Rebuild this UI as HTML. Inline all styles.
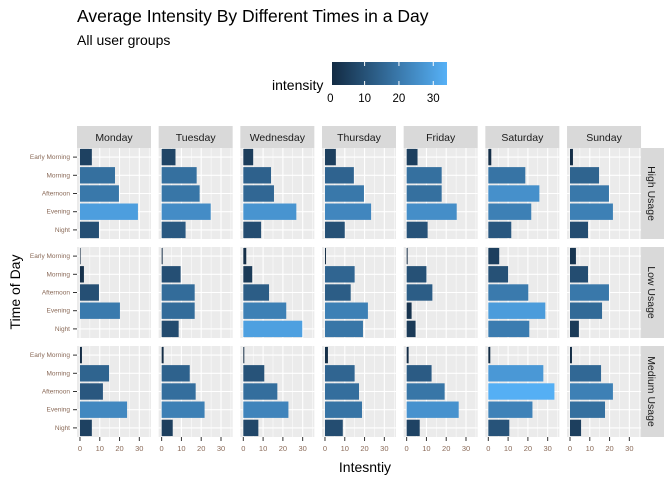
<!DOCTYPE html>
<html><head><meta charset="utf-8"><style>
body{margin:0;background:#fff}
svg text{font-family:"Liberation Sans",sans-serif}
</style></head><body>
<svg id="c" width="672" height="480" viewBox="0 0 672 480">
<text x="77" y="22" font-size="17.5" fill="#000">Average Intensity By Different Times in a Day</text>
<text x="77" y="45" font-size="14" fill="#000">All user groups</text>
<defs><linearGradient id="g" x1="0" x2="1"><stop offset="0" stop-color="#132B43"/><stop offset="1" stop-color="#56B1F7"/></linearGradient></defs>
<g>
<text x="272" y="90" font-size="14" fill="#000">intensity</text>
<rect x="332" y="62" width="115" height="23" fill="url(#g)"/>
<g id="lt"></g>
</g>
<g id="plot"></g>
<text x="365" y="472" font-size="14" text-anchor="middle" fill="#000">Intesntiy</text>
<text transform="translate(20,292) rotate(-90)" font-size="14" text-anchor="middle" fill="#000">Time of Day</text>
</svg>
<script>
const days=["Monday","Tuesday","Wednesday","Thursday","Friday","Saturday","Sunday"];
const groups=["High Usage","Low Usage","Medium Usage"];
const times=["Early Morning","Morning","Afternoon","Evening","Night"];
const xTicks=[0,10,20,30];
const highUsage=[[6,17.7,19.7,29.3,9.6],[7,17.7,19.2,24.8,12.1],[5,14,15.5,26.8,9],[5.5,14.6,19.7,23.3,10],[5.5,17.7,17.7,25.3,10.6],[1.5,18.7,25.8,21.7,11.6],[1.5,14.7,19.7,21.7,9.1]];
const lowUsage=[[0.3,2,9.6,20.2,0],[0.5,9.6,16.7,16.7,8.6],[1.5,4.5,13,21.7,29.8],[0.5,15,13,21.7,19.2],[0.5,10,13,2.5,4.5],[5.5,10,20.2,28.8,20.7],[3,9.1,19.7,16.2,4.5]];
const mediumUsage=[[1,14.7,11.6,23.8,6],[1,14.2,17.2,21.7,5.6],[0.5,10.6,17.2,22.8,7.6],[1.5,15,17.2,18.7,9],[1,12.6,19.2,26.3,6.6],[1,27.8,33.4,22.3,10.6],[1,15.7,21.7,17.7,5.6]];
const legendTicks=[0,10,20,30];
const allData=[highUsage,lowUsage,mediumUsage];
const NS="http://www.w3.org/2000/svg";
function mk(t,a,p){const e=document.createElementNS(NS,t);for(const k in a)e.setAttribute(k,a[k]);p.appendChild(e);return e;}
const cMin=0.5,cMax=34;
function col(v){const t=Math.max(0,Math.min(1,(v-cMin)/(cMax-cMin)));const a=[0x13,0x2B,0x43],b=[0x56,0xB1,0xF7];return "rgb("+a.map((x,i)=>Math.round(x+(b[i]-x)*t)).join(",")+")";}
const lt=document.getElementById('lt');
const lx=v=>332+(v-cMin)/(cMax-cMin)*115;
legendTicks.forEach(v=>{
 mk('line',{x1:lx(v),x2:lx(v),y1:62,y2:66,stroke:'#fff','stroke-width':1},lt);
 mk('line',{x1:lx(v),x2:lx(v),y1:81,y2:85,stroke:'#fff','stroke-width':1},lt);
 const t=mk('text',{x:lx(v),y:102,'font-size':11.5,'text-anchor':'middle',fill:'#000'},lt);t.textContent=v;
 
 
});
const P=document.getElementById('plot');
const pw=74,ph=91,dmin=-1.5,dmax=35.9;
const px0=i=>77+81.67*i, py0=j=>148+99*j;
const xs=(i,v)=>px0(i)+(v-dmin)/(dmax-dmin)*pw;
const band=ph/5;
const yc=(j,k)=>py0(j)+band*(k+0.5);
days.forEach((d,i)=>{
 const s=mk('rect',{x:px0(i),y:126,width:pw,height:22,fill:'#D9D9D9'},P);
 
 
 const t=mk('text',{x:px0(i)+pw/2,y:141,'font-size':10.5,'text-anchor':'middle',fill:'#1A1A1A'},P);t.textContent=d;
 
 
});
groups.forEach((g,j)=>{
 const s=mk('rect',{x:641,y:py0(j),width:23,height:ph,fill:'#D9D9D9'},P);
 
 
 const t=mk('text',{transform:`translate(648,${py0(j)+ph/2}) rotate(90)`,'font-size':10.5,'text-anchor':'middle',fill:'#1A1A1A'},P);t.textContent=g;
 
 
 times.forEach((tm,k)=>{
  const l=mk('text',{x:70,y:yc(j,k)+2,'font-size':6.5,'text-anchor':'end',fill:'#8A6A58'},P);l.textContent=tm;
  
  
  mk('line',{x1:73,x2:77,y1:yc(j,k),y2:yc(j,k),stroke:'#333','stroke-width':1},P);
 });
 days.forEach((d,i)=>{
  const r=mk('rect',{x:px0(i),y:py0(j),width:pw,height:ph,fill:'#EBEBEB'},P);
  
  
  [5,15,25,35].forEach(v=>mk('line',{x1:xs(i,v),x2:xs(i,v),y1:py0(j),y2:py0(j)+ph,stroke:'#fff','stroke-width':0.5},P));
  xTicks.forEach(v=>mk('line',{x1:xs(i,v),x2:xs(i,v),y1:py0(j),y2:py0(j)+ph,stroke:'#fff','stroke-width':1.1},P));
  times.forEach((tm,k)=>mk('line',{x1:px0(i),x2:px0(i)+pw,y1:yc(j,k),y2:yc(j,k),stroke:'#fff','stroke-width':1.1},P));
  allData[j][i].forEach((v,k)=>{
   if(v<=0)return;
   const b=mk('rect',{x:xs(i,0),y:yc(j,k)-band*0.45,width:xs(i,v)-xs(i,0),height:band*0.9,fill:col(v)},P);
   
   
  });
  if(j===2){xTicks.forEach(v=>{
   mk('line',{x1:xs(i,v),x2:xs(i,v),y1:437,y2:441,stroke:'#333','stroke-width':1},P);
   const t=mk('text',{x:xs(i,v),y:451,'font-size':7.5,'text-anchor':'middle',fill:'#8A6A58'},P);t.textContent=v;
   
   
  });}
 });
});
</script>
</body></html>
